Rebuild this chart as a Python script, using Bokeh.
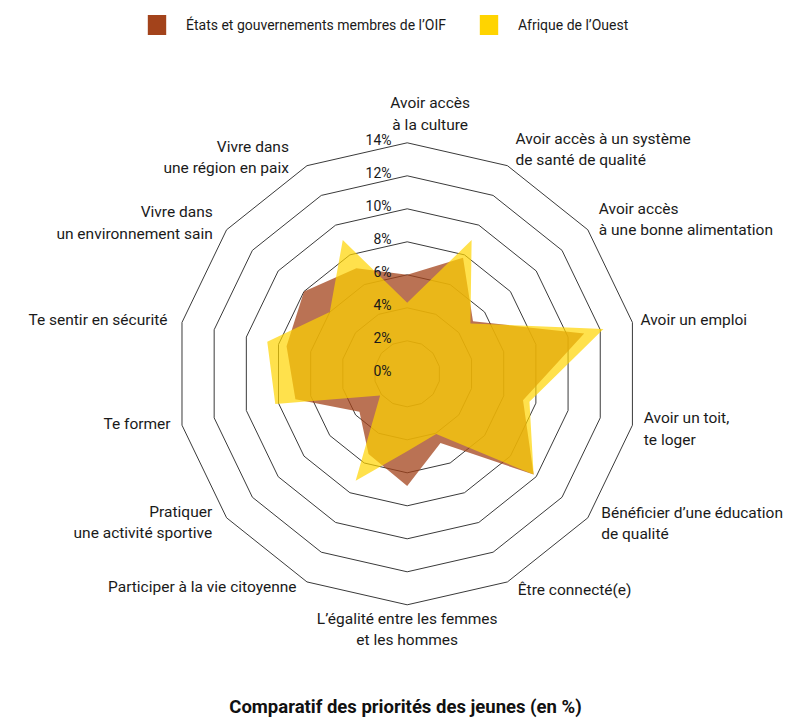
import numpy as np
from bokeh.plotting import figure
from bokeh.models import Range1d, Label, Legend, LegendItem, ColumnDataSource
from bokeh.core.properties import value
from bokeh.embed import file_html
from bokeh.resources import INLINE

# ---------------- data ----------------
categories = [
    "Avoir accès\nà la culture",
    "Avoir accès à un système\nde santé de qualité",
    "Avoir accès\nà une bonne alimentation",
    "Avoir un emploi",
    "Avoir un toit,\nte loger",
    "Bénéficier d’une éducation\nde qualité",
    "Être connecté(e)",
    "L’égalité entre les femmes\net les hommes",
    "Participer à la vie citoyenne",
    "Pratiquer\nune activité sportive",
    "Te former",
    "Te sentir en sécurité",
    "Vivre dans\nun environnement sain",
    "Vivre dans\nune région en paix",
]
oif_values = [6.0, 7.8, 5.1, 11.0, 7.2, 9.8, 4.65, 6.8, 5.4, 3.7, 6.95, 7.5, 8.0, 7.1]
afrique_values = [4.3, 9.0, 4.9, 12.2, 7.6, 9.8, 4.05, 4.7, 7.2, 2.1, 8.2, 8.7, 6.0, 9.0]
series_names = ["États et gouvernements membres de l’OIF", "Afrique de l’Ouest"]
tick_values = [0, 2, 4, 6, 8, 10, 12, 14]
tick_labels = ["0%", "2%", "4%", "6%", "8%", "10%", "12%", "14%"]
title_text = "Comparatif des priorités des jeunes (en %)"

# ---------------- style / layout ----------------
FONT = "Roboto"
BROWN = "#A3431B"
YELLOW = "#FFD400"
W, H = 789, 718
S = 16.5                 # pixels per 1 %
CX, CY = 406.7, 373.3    # centre of the radar in figure pixels
LABEL_R = 245.0          # label radius in pixels
# per-label fine adjustments in pixels (dx right, dy down)
label_dx = [23, 2, 0, -5.6, -2.3, 2.5, 4.3, 0, -4.4, -3.5, 2.2, -0.8, -2.9, -12]
label_dy = [-14.6, -3.4, -1.7, 1.2, 0.5, -3, -4.7, 10.7, -7.3, -4.2, -4.5, 1.2, 1.7, 4.4]

n = len(categories)
ang = np.pi / 2 - 2 * np.pi * np.arange(n) / n
cosa, sina = np.cos(ang), np.sin(ang)

p = figure(width=W, height=H, output_backend="svg", toolbar_location=None,
           x_range=Range1d(-CX / S, (W - CX) / S),
           y_range=Range1d(-(H - CY) / S, CY / S),
           min_border=0, outline_line_color=None)
p.xaxis.visible = False
p.yaxis.visible = False
p.xgrid.visible = False
p.ygrid.visible = False
p.background_fill_color = "white"

# rings
ring_xs = [list(v * cosa) for v in tick_values[1:]]
ring_ys = [list(v * sina) for v in tick_values[1:]]
p.patches(ring_xs, ring_ys, fill_alpha=0, line_color="#3a3a3a", line_width=1)

# series polygons
oif = np.array(oif_values)
afr = np.array(afrique_values)
p.patch(list(oif * cosa), list(oif * sina), fill_color=BROWN, fill_alpha=0.75, line_alpha=0)
p.patch(list(afr * cosa), list(afr * sina), fill_color=YELLOW, fill_alpha=0.7, line_alpha=0)

# tick labels
p.text(x=[-15.7 / S] * len(tick_values), y=[v + 3 / S for v in tick_values], text=tick_labels,
       text_align="right", text_baseline="middle", text_font=value(FONT),
       text_font_size="14px", text_color="#1a1a1a")

# category labels
aligns = []
for c in cosa:
    if c > 0.1:
        aligns.append("left")
    elif c < -0.1:
        aligns.append("right")
    else:
        aligns.append("center")
lx = [LABEL_R / S * cosa[i] + label_dx[i] / S for i in range(n)]
ly = [LABEL_R / S * sina[i] - label_dy[i] / S for i in range(n)]
src = ColumnDataSource(dict(x=lx, y=ly, text=categories, align=aligns))
p.text(x="x", y="y", text="text", text_align="align", source=src,
       text_baseline="middle", text_font=value(FONT), text_font_size="15.5px",
       text_color="#1a1a1a", text_line_height=1.2)

# legend (opaque swatches, from hidden full-opacity copies of the series)
r1 = p.patch(list(oif * cosa), list(oif * sina), fill_color=BROWN, fill_alpha=1, line_alpha=0, visible=False)
r2 = p.patch(list(afr * cosa), list(afr * sina), fill_color=YELLOW, fill_alpha=1, line_alpha=0, visible=False)
legend = Legend(items=[LegendItem(label=series_names[0], renderers=[r1]),
                       LegendItem(label=series_names[1], renderers=[r2])],
                orientation="horizontal", location=(145, 681),
                glyph_width=23, glyph_height=25, label_standoff=18, spacing=31,
                padding=0, margin=0, border_line_alpha=0, background_fill_alpha=0,
                label_text_font=FONT, label_text_font_size="14px",
                label_text_color="#1a1a1a", label_text_baseline="middle")
p.add_layout(legend)

# title
p.add_layout(Label(x=405, y=12, x_units="screen", y_units="screen", text=title_text,
                   text_align="center", text_baseline="alphabetic", text_font=FONT,
                   text_font_size="18.5px", text_font_style="bold", text_color="#111111"))

open("out.html", "w").write(file_html(p, INLINE))
